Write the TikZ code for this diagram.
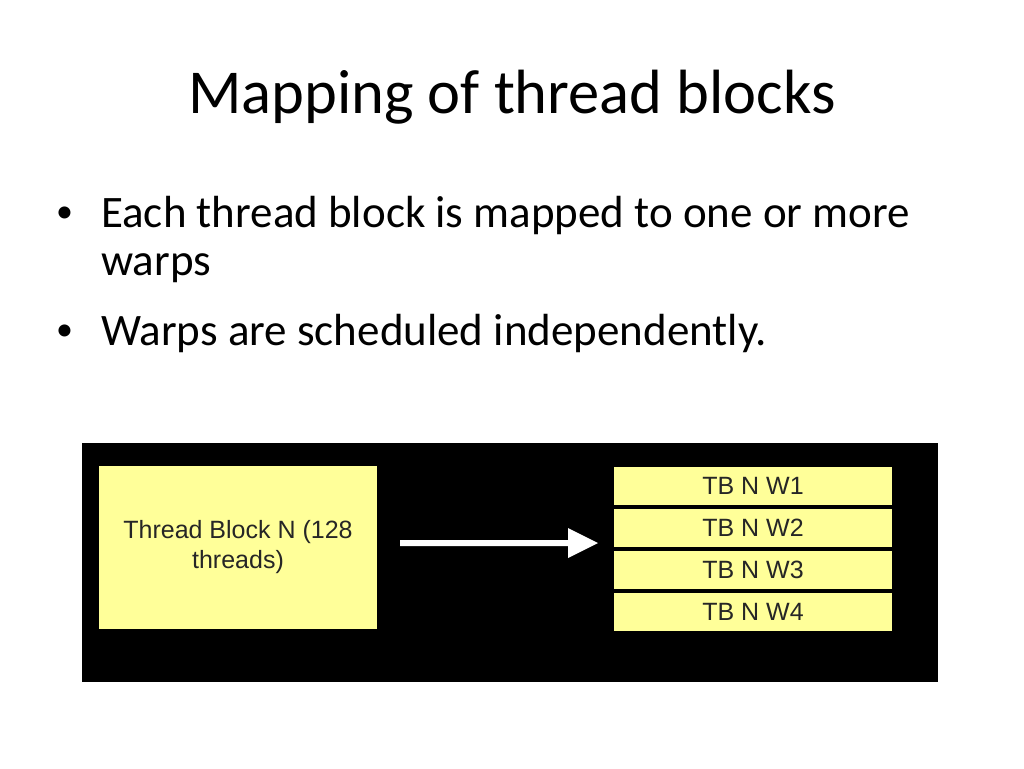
\documentclass[tikz,border=0pt]{standalone}
\usepackage{fontspec}
\setmainfont{Carlito}
\newfontfamily\arialf{Liberation Sans}
\definecolor{boxy}{HTML}{FFFF99}
\begin{document}
\begin{tikzpicture}[x=1pt,y=-1pt,
  ybox/.style={fill=boxy,draw=none,inner sep=0pt,font=\arialf\fontsize{25}{30}\selectfont,align=center,text=black!85},
  bul/.style={anchor=west,inner sep=0pt,font=\fontsize{45}{54}\selectfont}]
\useasboundingbox (0,0) rectangle (1024,768);
\node[font=\fontsize{62.5}{70}\selectfont] (title) at (512,97) {Mapping of thread blocks};
\node[bul,font=\fontsize{34}{40}\selectfont] (b1) at (56,215) {•};
\node[bul] (t1) at (101,215) {Each thread block is mapped to one or more};
\node[bul] (t1b) at (101,268) {warps};
\node[bul,font=\fontsize{34}{40}\selectfont] (b2) at (56,333) {•};
\node[bul] (t2) at (101,333) {Warps are scheduled independently.};
\fill[black] (82,443) rectangle (938,682);
\node[ybox,minimum width=278,minimum height=163] (tb) at (238,547.5) {Thread Block N (128\\threads)};
\node[ybox,minimum width=278,minimum height=38] (w1) at (753,486) {TB N W1};
\node[ybox,minimum width=278,minimum height=38] (w2) at (753,528) {TB N W2};
\node[ybox,minimum width=278,minimum height=38] (w3) at (753,570) {TB N W3};
\node[ybox,minimum width=278,minimum height=38] (w4) at (753,611.5) {TB N W4};
\fill[white] (400,540) -- (568,540) -- (568,528) -- (598,543) -- (568,558) -- (568,546) -- (400,546) -- cycle;
\end{tikzpicture}
\end{document}
